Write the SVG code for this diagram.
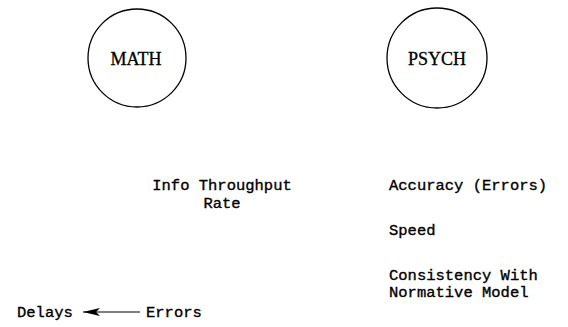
<svg xmlns="http://www.w3.org/2000/svg" width="568" height="327" viewBox="0 0 568 327">
<defs>
<style>
.node{fill:none;stroke:#000;stroke-width:1.3}
.cl{font-family:"Liberation Serif","Times New Roman",serif;font-size:18px;fill:#000;stroke:#000;stroke-width:0.3;text-anchor:middle}
.t{font-family:"Liberation Mono","Courier New",monospace;font-size:15.5px;fill:#000;stroke:#000;stroke-width:0.35}
.c{stroke:#000;stroke-width:1.2;fill:none}
</style>
<marker id="ah" markerWidth="17" markerHeight="9" refX="17" refY="4.5" orient="auto" markerUnits="userSpaceOnUse">
<path d="M0,0.5 L17,4.5 L0,8.5 L4,4.5 Z" fill="#000"/>
</marker>
</defs>
<rect width="568" height="327" fill="#fff"/>
<g id="math">
<circle class="node" cx="137" cy="58" r="49"/>
<text class="cl" x="136" y="65">MATH</text>
</g>
<g id="psych">
<circle class="node" cx="437" cy="58" r="50"/>
<text class="cl" x="437" y="65">PSYCH</text>
</g>
<g id="info">
<text class="t" x="222" y="190" text-anchor="middle">Info Throughput</text>
<text class="t" x="222" y="208" text-anchor="middle">Rate</text>
</g>
<g id="accuracy">
<text class="t" x="389" y="190">Accuracy (Errors)</text>
</g>
<g id="speed">
<text class="t" x="389" y="235">Speed</text>
</g>
<g id="consistency">
<text class="t" x="389" y="280">Consistency With</text>
<text class="t" x="389" y="297">Normative Model</text>
</g>
<g id="delays">
<text class="t" x="17" y="317">Delays</text>
</g>
<g id="errors">
<text class="t" x="146" y="317">Errors</text>
</g>
<g id="connectors">
<line class="c" x1="140" y1="312" x2="83" y2="312" marker-end="url(#ah)"/>
</g>
</svg>
